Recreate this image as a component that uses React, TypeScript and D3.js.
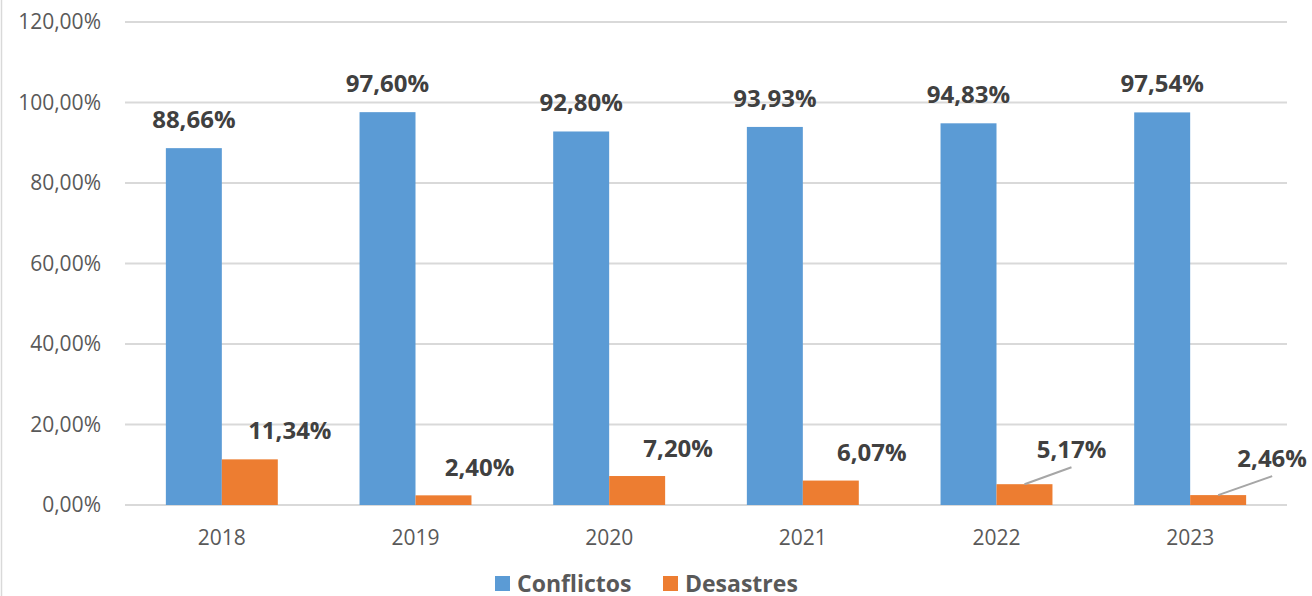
import React from "react";
import * as d3 from "d3";

const years = ["2018", "2019", "2020", "2021", "2022", "2023"];
const seriesNames = ["Conflictos", "Desastres"];
const conflictos = [88.66, 97.6, 92.8, 93.93, 94.83, 97.54];
const desastres = [11.34, 2.4, 7.2, 6.07, 5.17, 2.46];
const yTicks = [0, 20, 40, 60, 80, 100, 120];

// label placement nudges (layout only) for the Desastres labels: [dx, dy] from bar top-centre
const desastresLabelNudge: [number, number][] = [
  [40, -20],
  [36, -19],
  [41, -19],
  [41, -20],
  [47, -26],
  [54, -28],
];
const desastresLeader = [false, false, false, false, true, true];

const W = 1312;
const H = 596;
const colors = ["#5b9bd5", "#ed7d31"];
const FONT = "'Open Sans', 'Noto Sans', sans-serif";

const fmt = (v: number) => d3.format(".2f")(v).replace(".", ",") + "%";

export default function App() {
  const x0 = d3
    .scaleBand<string>()
    .domain(years)
    .range([125, 1287])
    .paddingInner(0.422)
    .paddingOuter(0.211);
  const x1 = d3
    .scaleBand<string>()
    .domain(seriesNames)
    .range([0, x0.bandwidth()])
    .padding(0);
  const y = d3.scaleLinear().domain([0, 120]).range([505, 22]);
  const series = [conflictos, desastres];

  return (
    <svg
      width={W}
      height={H}
      style={{ position: "absolute", left: 0, top: 0, background: "#fff" }}
      fontFamily={FONT}
    >
      <rect x={0} y={0} width={W} height={H} fill="#fff" />
      <line x1={1.5} y1={0} x2={1.5} y2={H} stroke="#d9d9d9" strokeWidth={1.5} />
      {yTicks.map((t) => (
        <g key={t}>
          <line
            x1={125}
            x2={1287}
            y1={y(t)}
            y2={y(t)}
            stroke="#d9d9d9"
            strokeWidth={2}
          />
          <text
            x={101}
            y={y(t)}
            dy="0.35em"
            textAnchor="end"
            fontSize={21}
            fill="#595959"
          >
            {fmt(t)}
          </text>
        </g>
      ))}
      {years.map((yr, i) => (
        <g key={yr} transform={`translate(${x0(yr)},0)`}>
          {series.map((vals, s) => (
            <rect
              key={s}
              x={x1(seriesNames[s])}
              y={y(vals[i])}
              width={x1.bandwidth()}
              height={y(0) - y(vals[i])}
              fill={colors[s]}
            />
          ))}
        </g>
      ))}
      {years.map((yr, i) => (
        <text
          key={yr}
          x={(x0(yr) as number) + x0.bandwidth() / 2}
          y={545}
          textAnchor="middle"
          fontSize={21}
          fill="#595959"
        >
          {yr}
        </text>
      ))}
      {/* Conflictos labels */}
      {years.map((yr, i) => {
        const cx = (x0(yr) as number) + (x1("Conflictos") as number) + x1.bandwidth() / 2;
        return (
          <text
            key={yr}
            x={cx}
            y={y(conflictos[i]) - 20}
            textAnchor="middle"
            fontSize={24}
            fontWeight="bold"
            fill="#404040"
          >
            {fmt(conflictos[i])}
          </text>
        );
      })}
      {/* Desastres labels */}
      {years.map((yr, i) => {
        const cx = (x0(yr) as number) + (x1("Desastres") as number) + x1.bandwidth() / 2;
        const top = y(desastres[i]);
        const [dx, dy] = desastresLabelNudge[i];
        return (
          <g key={yr}>
            {desastresLeader[i] && (
              <line
                x1={cx}
                y1={top}
                x2={cx + dx}
                y2={top + dy + 9}
                stroke="#a6a6a6"
                strokeWidth={2}
              />
            )}
            <text
              x={cx + dx}
              y={top + dy}
              textAnchor="middle"
              fontSize={24}
              fontWeight="bold"
              fill="#404040"
            >
              {fmt(desastres[i])}
            </text>
          </g>
        );
      })}
      {/* Legend */}
      {seriesNames.map((name, s) => {
        const lx = s === 0 ? 495 : 663;
        return (
          <g key={name}>
            <rect x={lx} y={576} width={15} height={15} fill={colors[s]} />
            <text
              x={lx + 22}
              y={584}
              dy="0.35em"
              fontSize={23}
              fontWeight="bold"
              fill="#595959"
            >
              {name}
            </text>
          </g>
        );
      })}
    </svg>
  );
}
